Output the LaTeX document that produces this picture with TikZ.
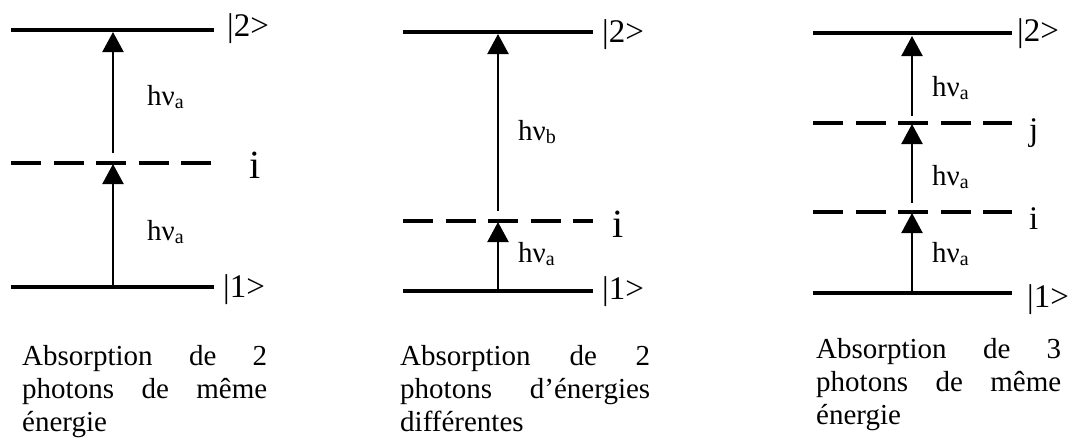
\documentclass[tikz,border=0pt]{standalone}
\usepackage{fontspec}
\setmainfont{Liberation Serif}
\usetikzlibrary{arrows.meta}
\tikzset{
  lev/.style={line width=4.5pt},
  virt/.style={line width=4.5pt, dash pattern=on 30pt off 12.5pt},
  photon/.style={line width=2.2pt, -{Triangle[width=21pt,length=20pt]}},
  ket/.style={anchor=west, inner sep=0pt, font=\fontsize{33}{33}\selectfont},
  lvlA/.style={anchor=base west, inner sep=0pt, font=\fontsize{40}{40}\selectfont},
  lvlB/.style={anchor=base west, inner sep=0pt, font=\fontsize{33}{33}\selectfont},
  hnu/.style={anchor=base west, inner sep=0pt, font=\fontsize{29}{29}\selectfont},
  captext/.style={anchor=base west, inner sep=0pt}
}
\newcommand{\textnu}{ν}
\newcommand{\hnusub}[1]{h\textnu\raisebox{-3.5pt}{\fontsize{20}{20}\selectfont #1}}
\newcommand{\capbox}[4]{\parbox[t]{#1}{\fontsize{29}{33}\selectfont
  \hbox to #1{#2}\hbox to #1{#3}\hbox{#4}}}
\begin{document}
\begin{tikzpicture}[x=1pt,y=-1pt]
\useasboundingbox (0,0) rectangle (1071,437);
% ---------- panel 1 ----------
\coordinate (p1tl) at (11,30);  \coordinate (p1tr) at (214,30);
\coordinate (p1il) at (11,163); \coordinate (p1ir) at (214,163);
\coordinate (p1bl) at (11,287); \coordinate (p1br) at (214,287);
\draw[lev] (p1tl) -- (p1tr);
\draw[virt] (p1il) -- (p1ir);
\draw[lev] (p1bl) -- (p1br);
\coordinate (p1a0) at (113,287); \coordinate (p1a1) at (113,164);
\coordinate (p1b0) at (113,153); \coordinate (p1b1) at (113,32);
\draw[photon] (p1a0) -- (p1a1);
\draw[photon] (p1b0) -- (p1b1);
\node[ket] (k12) at (227,29) {|2>};
\node[lvlA] (i1) at (249,178) {i};
\node[ket] (k11) at (223,290) {|1>};
\node[hnu] (h1b) at (147,105) {\hnusub{a}};
\node[hnu] (h1a) at (147,240) {\hnusub{a}};
% ---------- panel 2 ----------
\coordinate (p2tl) at (403,32);  \coordinate (p2tr) at (593,32);
\coordinate (p2il) at (403,221); \coordinate (p2ir) at (593,221);
\coordinate (p2bl) at (403,291); \coordinate (p2br) at (593,291);
\draw[lev] (p2tl) -- (p2tr);
\draw[virt] (p2il) -- (p2ir);
\draw[lev] (p2bl) -- (p2br);
\coordinate (p2a0) at (498,291); \coordinate (p2a1) at (498,222);
\coordinate (p2b0) at (498,211); \coordinate (p2b1) at (498,34);
\draw[photon] (p2a0) -- (p2a1);
\draw[photon] (p2b0) -- (p2b1);
\node[ket] (k22) at (602,35) {|2>};
\node[lvlA] (i2) at (612,237) {i};
\node[ket] (k21) at (602,292) {|1>};
\node[hnu] (h2b) at (518,140) {\hnusub{b}};
\node[hnu] (h2a) at (518,262) {\hnusub{a}};
% ---------- panel 3 ----------
\coordinate (p3tl) at (813,33);  \coordinate (p3tr) at (1012,33);
\coordinate (p3jl) at (813,123); \coordinate (p3jr) at (1012,123);
\coordinate (p3il) at (813,212); \coordinate (p3ir) at (1012,212);
\coordinate (p3bl) at (813,293); \coordinate (p3br) at (1012,293);
\draw[lev] (p3tl) -- (p3tr);
\draw[virt] (p3jl) -- (p3jr);
\draw[virt] (p3il) -- (p3ir);
\draw[lev] (p3bl) -- (p3br);
\coordinate (p3a0) at (912,293); \coordinate (p3a1) at (912,213);
\coordinate (p3b0) at (912,203); \coordinate (p3b1) at (912,124);
\coordinate (p3c0) at (912,116); \coordinate (p3c1) at (912,36);
\draw[photon] (p3a0) -- (p3a1);
\draw[photon] (p3b0) -- (p3b1);
\draw[photon] (p3c0) -- (p3c1);
\node[ket] (k32) at (1017,34) {|2>};
\node[lvlB] (j3) at (1029,140) {j};
\node[lvlB] (i3) at (1029,229) {i};
\node[ket] (k31) at (1027,300) {|1>};
\node[hnu] (h3c) at (932,96) {\hnusub{a}};
\node[hnu] (h3b) at (932,185) {\hnusub{a}};
\node[hnu] (h3a) at (932,262) {\hnusub{a}};
% ---------- captions ----------
\node[captext] (c1) at (22,365) {\capbox{245pt}{Absorption\hfill de\hfill 2}{photons\hfill de\hfill même}{énergie}};
\node[captext] (c2) at (400,365) {\capbox{250pt}{Absorption\hfill de\hfill 2}{photons\hfill d’énergies}{différentes}};
\node[captext] (c3) at (816,358) {\capbox{245pt}{Absorption\hfill de\hfill 3}{photons\hfill de\hfill même}{énergie}};
\end{tikzpicture}
\end{document}
